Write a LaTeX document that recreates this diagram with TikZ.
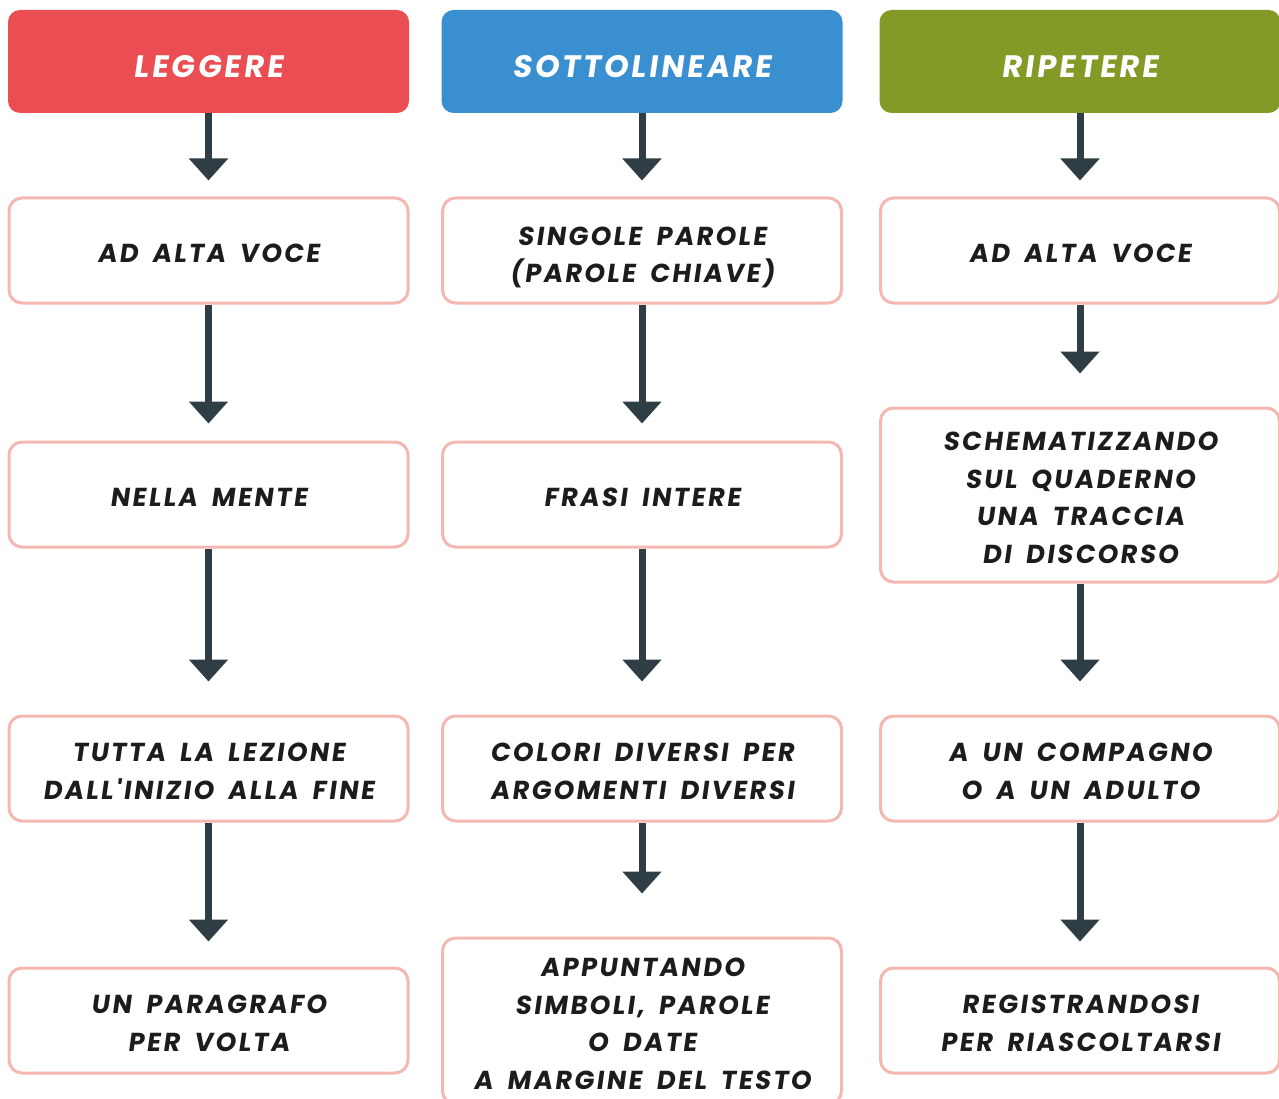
\documentclass[tikz,border=0pt]{standalone}
\usepackage{fontspec}
\newfontfamily\comicfont{Poppins}[LetterSpace=9, WordSpace=1.8, BoldFeatures={FakeSlant=0.14}]
\usetikzlibrary{arrows.meta}
\definecolor{hdrred}{HTML}{EA4D52}
\definecolor{hdrblue}{HTML}{3A8FD0}
\definecolor{hdrgreen}{HTML}{849A27}
\definecolor{boxline}{HTML}{F4B8B0}
\definecolor{arrowgrey}{HTML}{2F3E44}
\definecolor{ink}{HTML}{1C1C1C}
\tikzset{
  header/.style={rounded corners=12pt, minimum width=401pt, minimum height=103pt,
    text=white, font=\fontsize{31}{36}\comicfont\bfseries, inner sep=0pt,
    text height=32pt},
  % text block sits a little below the box centre
  stepbox/.style={draw=boxline, line width=3pt, fill=white, rounded corners=13pt,
    minimum width=399pt, minimum height=105pt, align=center, text=ink,
    font=\fontsize{26}{37.5}\comicfont\bfseries, inner sep=0pt,
    text height=24.2pt},
  twolines/.style={text height=61.7pt},
  fourlines/.style={text height=136.7pt},
  flow/.style={draw=arrowgrey, line width=7pt,
    -{Triangle[width=38pt,length=22pt]}, fill=arrowgrey}
}
\begin{document}
\begin{tikzpicture}[x=1pt,y=-1pt]
\useasboundingbox (0,0) rectangle (1279,1099);
% column headers
\node[header, fill=hdrred]   (h1) at (208.5,61.5) {LEGGERE};
\node[header, fill=hdrblue]  (h2) at (642,61.5)   {SOTTOLINEARE};
\node[header, fill=hdrgreen] (h3) at (1080,61.5)  {RIPETERE};
% column 1
\node[stepbox] (a1) at (208.5,250.5)  {AD ALTA VOCE};
\node[stepbox] (a2) at (208.5,494.5)  {NELLA MENTE};
\node[stepbox, twolines] (a3) at (208.5,768.5)  {TUTTA LA LEZIONE\\DALL'INIZIO ALLA FINE};
\node[stepbox, twolines] (a4) at (208.5,1020.5) {UN PARAGRAFO\\PER VOLTA};
% column 2
\node[stepbox, text height=69.7pt] (b1) at (642,250.5)  {SINGOLE PAROLE\\(PAROLE CHIAVE)};
\node[stepbox] (b2) at (642,494.5)  {FRASI INTERE};
\node[stepbox, twolines] (b3) at (642,768.5)  {COLORI DIVERSI PER\\ARGOMENTI DIVERSI};
\node[stepbox, fourlines, minimum height=166pt] (b4) at (642,1021) {APPUNTANDO\\SIMBOLI, PAROLE\\O DATE\\A MARGINE DEL TESTO};
% column 3
\node[stepbox] (c1) at (1080,250.5) {AD ALTA VOCE};
\node[stepbox, fourlines, minimum height=174pt] (c2) at (1080,495) {SCHEMATIZZANDO\\SUL QUADERNO\\UNA TRACCIA\\DI DISCORSO};
\node[stepbox, twolines] (c3) at (1080,768.5)  {A UN COMPAGNO\\O A UN ADULTO};
\node[stepbox, twolines] (c4) at (1080,1020.5) {REGISTRANDOSI\\PER RIASCOLTARSI};
% connectors
\draw[flow, shorten >=16pt] (h1.south) -- (a1.north);
\draw[flow, shorten >=17pt] (a1.south) -- (a2.north);
\draw[flow, shorten >=33pt] (a2.south) -- (a3.north);
\draw[flow, shorten >=25pt] (a3.south) -- (a4.north);
\draw[flow, shorten >=16pt] (h2.south) -- (b1.north);
\draw[flow, shorten >=17pt] (b1.south) -- (b2.north);
\draw[flow, shorten >=33pt] (b2.south) -- (b3.north);
\draw[flow, shorten >=43pt] (b3.south) -- (b4.north);
\draw[flow, shorten >=16pt] (h3.south) -- (c1.north);
\draw[flow, shorten >=33pt] (c1.south) -- (c2.north);
\draw[flow, shorten >=33pt] (c2.south) -- (c3.north);
\draw[flow, shorten >=25pt] (c3.south) -- (c4.north);
\end{tikzpicture}
\end{document}
